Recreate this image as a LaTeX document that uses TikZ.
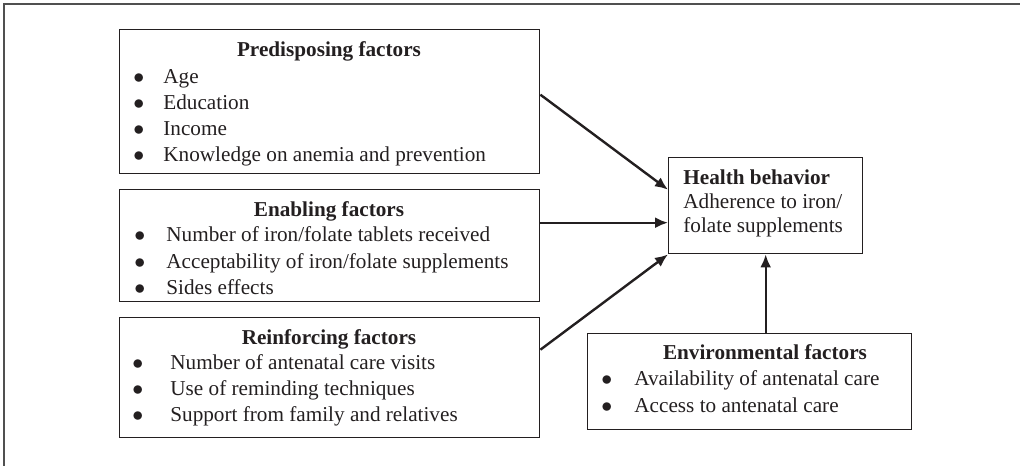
\documentclass[tikz,border=0pt]{standalone}
\usepackage{fontspec}
\setmainfont{Liberation Serif}
\usetikzlibrary{arrows.meta}
\definecolor{ink}{HTML}{231F20}
\definecolor{frm}{HTML}{505050}

\begin{document}
\begin{tikzpicture}[x=0.5pt,y=-0.5pt,
	box/.style={draw=ink, line width=0.7pt, rectangle, inner sep=0pt, anchor=north west},
	head/.style={anchor=base, inner sep=0pt, text=ink, font=\fontsize{10.6}{13}\selectfont\bfseries},
	item/.style={anchor=base west, inner sep=0pt, text=ink, font=\fontsize{10.6}{13}\selectfont},
	arr/.style={draw=ink, line width=1.2pt, -{Latex[length=6.5pt,width=5.5pt]}}]
	\useasboundingbox (0,0) rectangle (1020,466);

	% outer frame, only top and left are visible
	\draw[frm, line width=0.9pt] (1020,4) -- (4,4) -- (4,466);

	% the four factor boxes
	\node[box, minimum width=210pt, minimum height=72pt] (pre) at (119,29) {};
	\node[box, minimum width=210pt, minimum height=56pt] (enb) at (119,189) {};
	\node[box, minimum width=210pt, minimum height=60pt] (rnf) at (119,317) {};
	\node[box, minimum width=162pt, minimum height=48pt] (env) at (587,333) {};
	\node[box, minimum width=97pt, minimum height=48pt] (hb) at (668,157) {};

	% predisposing
	\node[head] (pretitle) at (329,56) {Predisposing factors};
	\node[item] (pre1) at (133,83) {\makebox[15pt][l]{$\bullet$}Age};
	\node[item] (pre2) at (133,109) {\makebox[15pt][l]{$\bullet$}Education};
	\node[item] (pre3) at (133,135) {\makebox[15pt][l]{$\bullet$}Income};
	\node[item] (pre4) at (133,161) {\makebox[15pt][l]{$\bullet$}Knowledge on anemia and prevention};

	% enabling
	\node[head] (enbtitle) at (329,216) {Enabling factors};
	\node[item] (enb1) at (134,241) {\makebox[16pt][l]{$\bullet$}Number of iron/folate tablets received};
	\node[item] (enb2) at (134,268) {\makebox[16pt][l]{$\bullet$}Acceptability of iron/folate supplements};
	\node[item] (enb3) at (134,294) {\makebox[16pt][l]{$\bullet$}Sides effects};

	% reinforcing
	\node[head] (rnftitle) at (329,344) {Reinforcing factors};
	\node[item] (rnf1) at (132,369) {\makebox[19pt][l]{$\bullet$}Number of antenatal care visits};
	\node[item] (rnf2) at (132,395) {\makebox[19pt][l]{$\bullet$}Use of reminding techniques};
	\node[item] (rnf3) at (132,421) {\makebox[19pt][l]{$\bullet$}Support from family and relatives};

	% environmental
	\node[head] (envtitle) at (765,359) {Environmental factors};
	\node[item] (env1) at (601,385) {\makebox[16.5pt][l]{$\bullet$}Availability of antenatal care};
	\node[item] (env2) at (601,412) {\makebox[16.5pt][l]{$\bullet$}Access to antenatal care};

	% health behavior
	\node[head, anchor=base west] (hbtitle) at (683,184) {Health behavior};
	\node[item] (hb1) at (683,208) {Adherence to iron/};
	\node[item] (hb2) at (683,232) {folate supplements};

	\draw[arr] ([yshift=3.5pt]pre.east) -- ([yshift=8pt]hb.west);
	\draw[arr] ([yshift=11.5pt]enb.east) -- ([yshift=-8.5pt]hb.west);
	\draw[arr] ([yshift=14pt]rnf.east) -- (hb.south west);
	\draw[arr] (env.north -| hb.south) -- (hb.south);
\end{tikzpicture}
\end{document}
